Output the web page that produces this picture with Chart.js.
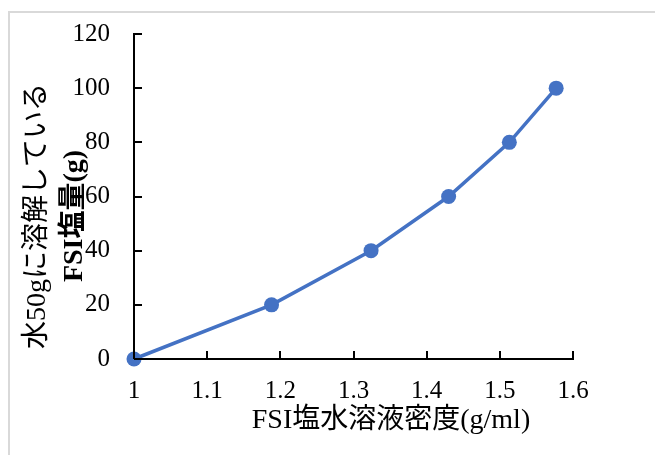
<!DOCTYPE html>
<html lang="ja">
<head>
<meta charset="utf-8">
<title>FSI塩水溶液密度</title>
<script src="https://cdn.jsdelivr.net/npm/chart.js@4/dist/chart.umd.min.js"></script>
<style>
  html, body { margin: 0; padding: 0; background: #ffffff; }
  #wrap { width: 655px; height: 455px; position: relative; }
</style>
</head>
<body>
<div id="wrap"><canvas id="chart" width="655" height="455"></canvas></div>
<script>
// Density of FSI salt solution (g/ml) vs. FSI salt dissolved in 50 g water (g)
const densities = [1.0, 1.188, 1.324, 1.430, 1.513, 1.577];
const saltMass = [0, 20, 40, 60, 80, 100];
const xTickValues = [1, 1.1, 1.2, 1.3, 1.4, 1.5, 1.6];
const xTickLabels = ['1', '1.1', '1.2', '1.3', '1.4', '1.5', '1.6'];
const yTickValues = [0, 20, 40, 60, 80, 100, 120];
const yTickLabels = ['0', '20', '40', '60', '80', '100', '120'];
const xTitle = 'FSI塩水溶液密度(g/ml)';
const yTitleLines = ['水50gに溶解している', 'FSI塩量(g)'];

const FONT = '"Liberation Serif", "Noto Sans CJK JP", serif';
const BLUE = '#4472C4';

// Frame, inward tick marks and axis titles
const decorations = {
  id: 'decorations',
  beforeDraw(chart) {
    const ctx = chart.ctx;
    ctx.save();
    ctx.strokeStyle = '#d9d9d9';
    ctx.lineWidth = 2;
    ctx.beginPath();
    ctx.moveTo(9, 460);
    ctx.lineTo(9, 12);
    ctx.lineTo(660, 12);
    ctx.stroke();
    ctx.restore();
  },
  afterDraw(chart) {
    const ctx = chart.ctx;
    const xs = chart.scales.x, ys = chart.scales.y;
    const a = chart.chartArea;
    ctx.save();
    ctx.strokeStyle = '#000000';
    ctx.lineWidth = 2;
    ctx.beginPath();
    xTickValues.forEach(v => {
      const px = Math.round(xs.getPixelForValue(v));
      ctx.moveTo(px, a.bottom);
      ctx.lineTo(px, a.bottom - 8);
    });
    yTickValues.forEach(v => {
      const py = Math.round(ys.getPixelForValue(v));
      ctx.moveTo(a.left, py);
      ctx.lineTo(a.left + 8, py);
    });
    ctx.stroke();

    ctx.fillStyle = '#000000';
    ctx.textAlign = 'center';
    ctx.textBaseline = 'middle';
    ctx.font = '28px ' + FONT;
    ctx.fillText(xTitle, a.left + 257, a.bottom + 62);

    const cy = 216;
    ctx.translate(a.left - 96, cy);
    ctx.rotate(-Math.PI / 2);
    ctx.font = '28px ' + FONT;
    ctx.fillText(yTitleLines[0], 0, 0);
    ctx.font = 'bold 28px ' + FONT;
    ctx.fillText(yTitleLines[1], 0, 37);
    ctx.restore();
  }
};

function build() {
  new Chart(document.getElementById('chart'), {
    type: 'scatter',
    data: {
      datasets: [{
        data: densities.map((d, i) => ({ x: d, y: saltMass[i] })),
        showLine: true,
        borderColor: BLUE,
        backgroundColor: BLUE,
        borderWidth: 3.5,
        pointRadius: 7.5,
        pointHoverRadius: 7.5,
        pointBorderWidth: 0,
        clip: false
      }]
    },
    options: {
      responsive: false,
      animation: false,
      events: [],
      layout: { padding: { top: 34, right: 82, left: 0, bottom: 0 } },
      plugins: { legend: { display: false }, tooltip: { enabled: false } },
      scales: {
        x: {
          type: 'linear',
          min: 1, max: 1.6,
          afterFit(s) { s.height = 96; s.paddingLeft = 0; s.paddingRight = 0; },
          afterBuildTicks(s) { s.ticks = xTickValues.map(v => ({ value: v })); },
          grid: { display: false, drawTicks: false },
          border: { display: true, color: '#000000', width: 2 },
          ticks: {
            padding: 17,
            color: '#000000',
            font: { family: FONT, size: 25 },
            maxRotation: 0,
            callback: (v) => xTickLabels[xTickValues.findIndex(t => Math.abs(t - v) < 1e-6)]
          }
        },
        y: {
          type: 'linear',
          min: 0, max: 120,
          afterFit(s) { s.width = 134; s.paddingTop = 0; s.paddingBottom = 0; },
          afterBuildTicks(s) { s.ticks = yTickValues.map(v => ({ value: v })); },
          grid: { display: false, drawTicks: false },
          border: { display: true, color: '#000000', width: 2 },
          ticks: {
            padding: 24,
            color: '#000000',
            font: { family: FONT, size: 25 },
            callback: (v) => yTickLabels[yTickValues.indexOf(v)]
          }
        }
      }
    },
    plugins: [decorations]
  });
}

if (document.fonts && document.fonts.load) {
  Promise.all([
    document.fonts.load('28px "Liberation Serif"'),
    document.fonts.load('28px "Noto Sans CJK JP"', '塩水溶液')
  ]).then(build, build);
} else {
  build();
}
</script>
</body>
</html>
